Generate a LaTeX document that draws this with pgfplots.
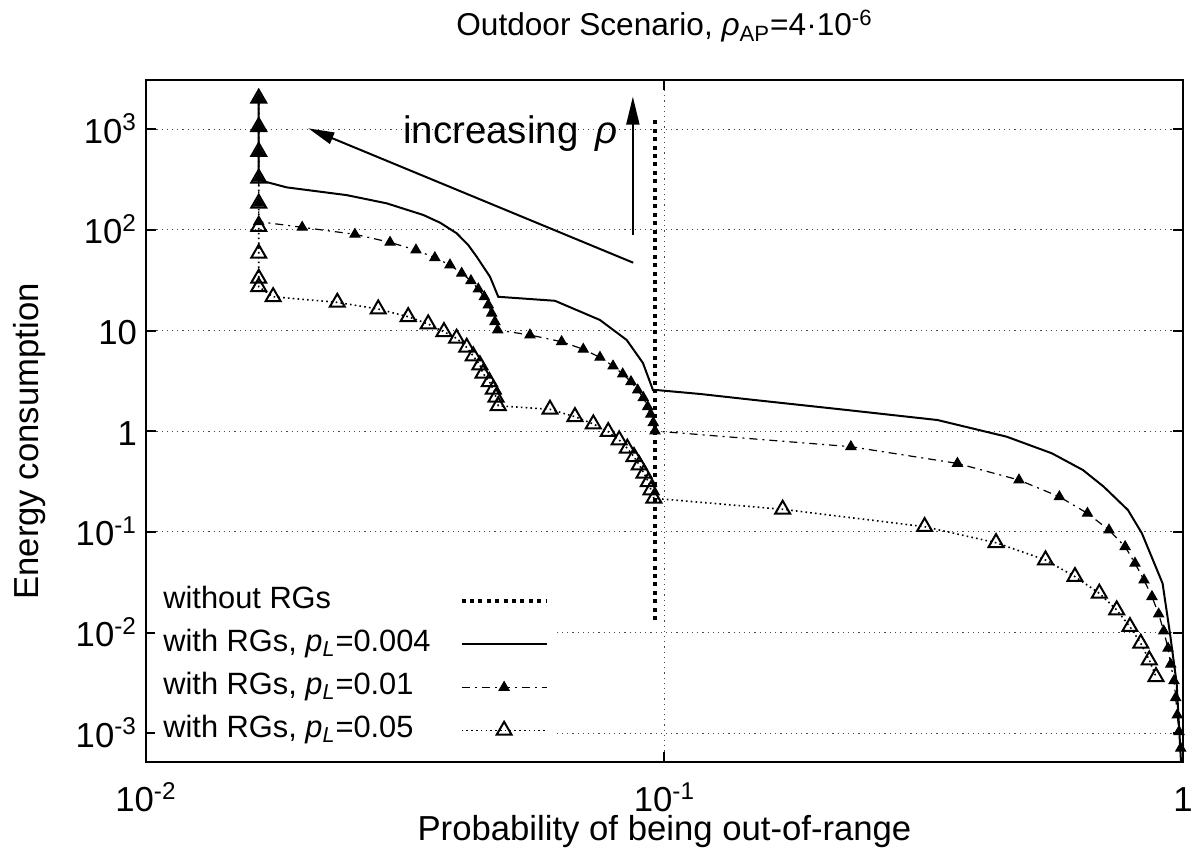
\documentclass[border=0pt]{standalone}
\usepackage{fontspec}
\setmainfont{Liberation Sans}
\usepackage{pgfplots}
\pgfplotsset{compat=1.18}
\usetikzlibrary{arrows.meta}
\newcommand\fs{\fontsize{17.35pt}{20pt}\selectfont}
\newcommand\lfs{\fontsize{15.4pt}{18pt}\selectfont}
\begin{document}
\begin{tikzpicture}[font=\fs]
\begin{axis}[
  scale only axis, width=518.5pt, height=341pt,
  xmode=log, ymode=log,
  xmin=0.01, xmax=1, ymin=5.19e-4, ymax=3090,
  xtick={0.01,0.1,1},
  xticklabels={10\textsuperscript{-2},10\textsuperscript{-1},1},
  ytick={1e-3,1e-2,1e-1,1,10,100,1000},
  yticklabels={10\textsuperscript{-3},10\textsuperscript{-2},10\textsuperscript{-1},1,10,10\textsuperscript{2},10\textsuperscript{3}},
  minor tick style={draw=none},
  tick align=inside, major tick length=5pt,
  tick style={black, line width=1pt},
  axis line style={line width=1.2pt},
  grid=major,
  major grid style={black!70, line width=0.5pt, dash pattern=on 0.6pt off 2pt},
  tick label style={font=\fs},
  xticklabel style={anchor=base, yshift=-25pt, inner sep=0pt},
  yticklabel style={anchor=base east, yshift=-7pt, xshift=-1pt},
  label style={font=\fs},
  xlabel={Probability of being out-of-range},
  xlabel style={at={(axis description cs:0.5,-0.1145)}, anchor=base, inner sep=0pt},
  ylabel={Energy consumption},
  ylabel style={at={(axis description cs:-0.1041,0.47)}, anchor=base},
  legend cell align=left,
  legend plot pos=right,
  legend style={at={(axis description cs:0.0087,0.2698)}, anchor=north west,
    draw=none, fill=white, inner sep=4pt, font=\lfs,
    nodes={inner sep=0pt, text height=11pt, text depth=4pt},
    row sep=6.5pt, column sep=14.5pt},
  legend image code/.code={\draw[mark repeat=2,mark phase=2,#1] plot coordinates {(0pt,0pt) (21.25pt,0pt) (42.5pt,0pt)};},
]
% without RGs
\addplot[black, line width=2pt, dash pattern=on 2pt off 2.2pt] coordinates {
(0.0959,0.01336) (0.0959,1286)};
\addlegendentry{without RGs}
% pL = 0.004
\addplot[black, line width=1pt] coordinates {
(0.0165,2030) (0.0165,314) (0.01868,265) (0.02438,222) (0.02912,184)
(0.03426,141) (0.03694,118) (0.03975,92.7) (0.04183,70.9) (0.04343,54.3) (0.04608,34.3) (0.04780,21.7)
(0.06149,19.8) (0.0751,12.76) (0.08456,8.07) (0.09088,4.77) (0.09502,2.57)
(0.0966,2.57) (0.1171,2.35) (0.1487,2.05) (0.222,1.64) (0.3361,1.295) (0.4571,0.884)
(0.5585,0.605) (0.6413,0.4127) (0.7034,0.2816) (0.7832,0.1653) (0.8332,0.0971)
(0.9133,0.0309) (0.9438,0.00985) (0.9723,0.00314) (0.994,0.0004)};
\addlegendentry{with RGs, \textit{p}\textsubscript{\textit{L}}=0.004}
% pL = 0.01
\addplot[black, line width=0.6pt, dash pattern=on 4pt off 2.5pt on 1pt off 2.5pt,
  mark=triangle*, mark size=2.8pt, mark options={solid, fill=black}] coordinates {
(0.0165,2030) (0.0165,1061) (0.0165,600) (0.0165,326) (0.0165,184) (0.0165,121)
(0.02001,106.3) (0.02529,90.6) (0.02956,75.4) (0.03317,63.2) (0.03607,53.0)
(0.03858,44.9) (0.04063,37.1) (0.04234,31.3) (0.04375,25.9) (0.04493,21.7)
(0.04573,18.0) (0.04642,14.9) (0.0471,12.27) (0.04767,10.15) (0.05503,9.05)
(0.06333,7.77) (0.06973,6.53) (0.0751,5.43) (0.0796,4.45) (0.08306,3.71)
(0.08618,3.11) (0.08878,2.57) (0.09103,2.16) (0.09281,1.756) (0.09406,1.476)
(0.09515,1.218) (0.09587,1.007) (0.2288,0.7035) (0.3673,0.48) (0.4827,0.3283)
(0.5776,0.224) (0.6543,0.1532) (0.7200,0.1046) (0.7735,0.0714) (0.808,0.0489)
(0.841,0.0333) (0.8713,0.0228) (0.8976,0.0153) (0.9180,0.01038) (0.9357,0.0070)
(0.9469,0.00485) (0.9608,0.00333) (0.9681,0.00226) (0.975,0.00152) (0.9824,0.00104)
(0.9899,0.00071)};
\addlegendentry{with RGs, \textit{p}\textsubscript{\textit{L}}=0.01}
% pL = 0.05
\addplot[black, line width=0.8pt, dash pattern=on 0.8pt off 1.6pt,
  mark=triangle, mark size=4.3pt, mark options={solid, line width=1pt}] coordinates {
(0.0165,2030) (0.0165,1061) (0.0165,600) (0.0165,326) (0.0165,184) (0.0165,108)
(0.0165,58.6) (0.0165,33.1) (0.0165,27.3) (0.01759,21.7) (0.02339,19.1)
(0.02805,16.4) (0.03204,13.75) (0.03502,11.64) (0.03756,9.76) (0.03973,8.39)
(0.04155,6.82) (0.04277,5.6) (0.04405,4.56) (0.04467,3.77) (0.04595,3.11)
(0.04676,2.61) (0.04732,2.18) (0.0478,1.796) (0.06014,1.654) (0.06719,1.397)
(0.07291,1.182) (0.07789,0.992) (0.08177,0.82) (0.08478,0.678) (0.08733,0.5594)
(0.08941,0.4627) (0.09130,0.3827) (0.09307,0.3158) (0.09419,0.2612) (0.0954,0.216)
(0.169,0.168) (0.3175,0.1129) (0.4359,0.0782) (0.5431,0.0527) (0.6189,0.036)
(0.6897,0.0246) (0.7451,0.0168) (0.7901,0.01146) (0.8290,0.00783) (0.861,0.00535)
(0.8870,0.00365)};
\addlegendentry{with RGs, \textit{p}\textsubscript{\textit{L}}=0.05}
% annotations
\draw[line width=1pt, -{Triangle[length=13pt,width=6pt]}] (axis cs:0.08705,47.3) -- (axis cs:0.02056,1023);
\draw[line width=1pt, -{Triangle[length=14pt,width=6.5pt]}] (axis cs:0.0869,89) -- (axis cs:0.0869,2110);
\node[anchor=base west, inner sep=0pt, font=\fontsize{19.2pt}{22pt}\selectfont] at (axis cs:0.03131,731) {increasing \,\textit{ρ}};
\end{axis}
\node[anchor=base, inner sep=0pt, font=\fontsize{15.8pt}{18pt}\selectfont] at ([yshift=22pt]current axis.north) {Outdoor Scenario, \textit{ρ}\textsubscript{AP}=4·10\textsuperscript{-6}};
\pgfresetboundingbox
\path ([xshift=-73pt,yshift=-44.5pt]current axis.south west) rectangle ([xshift=4.5pt,yshift=40pt]current axis.north east);
\end{tikzpicture}
\end{document}
